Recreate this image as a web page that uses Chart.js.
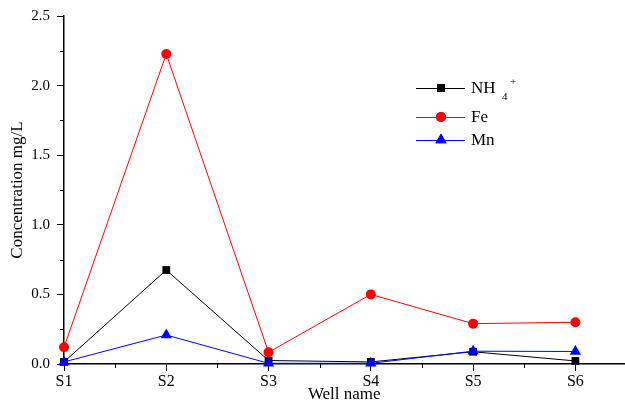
<!DOCTYPE html>
<html>
<head>
<meta charset="UTF-8">
<script src="https://cdn.jsdelivr.net/npm/chart.js"></script>
<style>
  html, body { margin: 0; background: #fff; overflow: hidden; }
  #wrap { width: 631px; height: 408px; }
</style>
</head>
<body>
<div id="wrap"><canvas id="grafico"></canvas></div>
<script>
// dados
var poços = ['S1', 'S2', 'S3', 'S4', 'S5', 'S6'];
var posicoes = [1, 2, 3, 4, 5, 6];
var nh4 = [0.015, 0.675, 0.025, 0.015, 0.088, 0.022];
var fe = [0.12, 2.227, 0.084, 0.50, 0.29, 0.30];
var mn = [0.015, 0.208, 0.005, 0.005, 0.092, 0.09];
var yTicks = [0, 0.5, 1.0, 1.5, 2.0, 2.5];

function pontos(valores) {
    return valores.map(function (v, i) { return { x: posicoes[i], y: v }; });
}

var fonte = 'Liberation Serif';

// ticks menores (entre os maiores)
var ticksMenores = {
    id: 'ticksMenores',
    afterDraw: function (chart) {
        var ctx = chart.ctx;
        var sx = chart.scales.x, sy = chart.scales.y;
        ctx.save();
        ctx.strokeStyle = '#000';
        ctx.lineWidth = 1;
        ctx.beginPath();
        for (var v = 0.25; v < 2.5; v += 0.5) {
            var py = Math.round(sy.getPixelForValue(v)) + 0.5;
            ctx.moveTo(sx.left - 4, py);
            ctx.lineTo(sx.left, py);
        }
        for (var u = 1.5; u < 6.48; u += 1) {
            var px = Math.round(sx.getPixelForValue(u)) + 0.5;
            ctx.moveTo(px, sy.bottom);
            ctx.lineTo(px, sy.bottom + 4);
        }
        ctx.stroke();
        ctx.restore();
    }
};

// legenda desenhada a mao por causa do NH4+
var legenda = {
    id: 'legenda',
    afterDraw: function (chart) {
        var ctx = chart.ctx;
        var linhas = [
            { cor: '#000000', forma: 'rect', raio: 5.5, y: 88 },
            { cor: '#ff0000', forma: 'circle', raio: 5, y: 117 },
            { cor: '#0000ff', forma: 'triangle', raio: 6.5, y: 140 }
        ];
        ctx.save();
        linhas.forEach(function (l) {
            ctx.strokeStyle = l.cor;
            ctx.lineWidth = 1;
            ctx.beginPath();
            ctx.moveTo(416, l.y + 0.5);
            ctx.lineTo(465, l.y + 0.5);
            ctx.stroke();
            ctx.fillStyle = l.cor;
            Chart.helpers.drawPoint(ctx, { pointStyle: l.forma, radius: l.raio, rotation: 0, borderWidth: 0 }, 441, l.y);
            ctx.fill();
        });
        ctx.fillStyle = '#000';
        ctx.textBaseline = 'middle';
        ctx.textAlign = 'left';
        ctx.font = '17px "' + fonte + '"';
        ctx.fillText('NH', 471, 89);
        ctx.fillText('Fe', 471, 118);
        ctx.fillText('Mn', 471, 141);
        ctx.font = '11px "' + fonte + '"';
        ctx.fillText('4', 502, 97);
        ctx.fillText('+', 510, 82);
        ctx.restore();
    }
};

new Chart(document.getElementById('grafico'), {
    type: 'line',
    data: {
        datasets: [
            {
                label: 'NH4+',
                data: pontos(nh4),
                borderColor: '#000000',
                backgroundColor: '#000000',
                borderWidth: 1,
                pointStyle: 'rect',
                pointRadius: 5.5,
                pointBorderWidth: 0,
                order: 3,
                clip: false
            },
            {
                label: 'Fe',
                data: pontos(fe),
                borderColor: '#ff0000',
                backgroundColor: '#ff0000',
                borderWidth: 1,
                pointStyle: 'circle',
                pointRadius: 5,
                pointBorderWidth: 0,
                order: 2,
                clip: false
            },
            {
                label: 'Mn',
                data: pontos(mn),
                borderColor: '#0000ff',
                backgroundColor: '#0000ff',
                borderWidth: 1,
                pointStyle: 'triangle',
                pointRadius: 6.5,
                pointBorderWidth: 0,
                order: 1,
                clip: false
            }
        ]
    },
    options: {
        responsive: true,
        maintainAspectRatio: false,
        animation: false,
        layout: { padding: { top: 16, right: 0, left: 0, bottom: 0 } },
        plugins: {
            legend: { display: false },
            tooltip: { enabled: false }
        },
        scales: {
            x: {
                type: 'linear',
                min: 1,
                max: 6.48,
                afterBuildTicks: function (s) {
                    s.ticks = posicoes.map(function (v) { return { value: v }; });
                },
                afterFit: function (s) {
                    s.height = 44;
                    s.paddingLeft = 0;
                    s.paddingRight = 0;
                },
                ticks: {
                    color: '#000',
                    font: { family: fonte, size: 16 },
                    padding: 1,
                    maxRotation: 0,
                    callback: function (v) { return poços[posicoes.indexOf(v)]; }
                },
                grid: { drawOnChartArea: false, drawTicks: true, tickLength: 7, color: '#000', lineWidth: 1 },
                border: { display: true, color: '#000', width: 1.5 },
                title: {
                    display: true,
                    text: 'Well name',
                    color: '#000',
                    font: { family: fonte, size: 17 },
                    padding: { top: 0, bottom: 3 }
                }
            },
            y: {
                min: 0,
                max: 2.5,
                afterBuildTicks: function (s) {
                    s.ticks = yTicks.map(function (v) { return { value: v }; });
                },
                afterFit: function (s) { s.width = 64; },
                ticks: {
                    color: '#000',
                    font: { family: fonte, size: 15 },
                    padding: 7,
                    callback: function (v) { return v.toFixed(1); }
                },
                grid: { drawOnChartArea: false, drawTicks: true, tickLength: 7, color: '#000', lineWidth: 1 },
                border: { display: true, color: '#000', width: 1.5 },
                title: {
                    display: true,
                    text: 'Concentration mg/L',
                    color: '#000',
                    font: { family: fonte, size: 17 },
                    padding: { top: 7, bottom: 0 }
                }
            }
        }
    },
    plugins: [ticksMenores, legenda]
});
</script>
</body>
</html>
